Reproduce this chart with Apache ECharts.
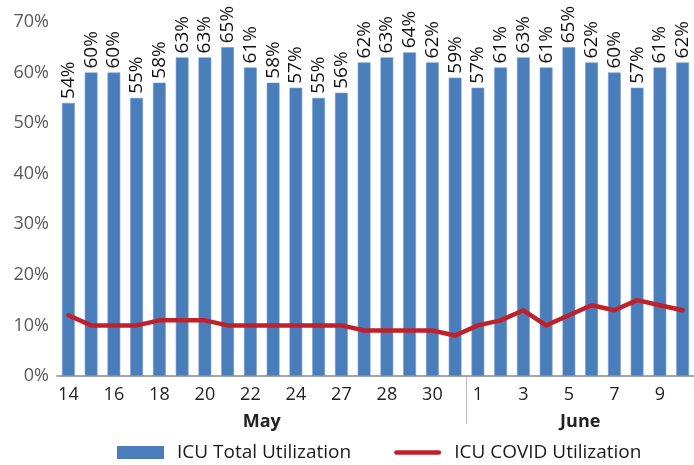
<!DOCTYPE html>
<html>
<head>
<meta charset="utf-8">
<script src="https://cdn.jsdelivr.net/npm/echarts@6/dist/echarts.min.js"></script>
<style>
  html, body { margin: 0; padding: 0; background: #fff; }
  #chart { width: 694px; height: 465px; }
</style>
</head>
<body>
<div id="chart"></div>
<script>
// one bar per reported day, May 14 - June 10
const tickLabels = ['14','','16','','18','','20','','22','','24','','27','','28','','30','','1','','3','','5','','7','','9','']
const categories = tickLabels.map((t, i) => 'd' + i)
const totalUtil = [54,60,60,55,58,63,63,65,61,58,57,55,56,62,63,64,62,59,57,61,63,61,65,62,60,57,61,62]
const covidUtil = [12,10,10,10,11,11,11,10,10,10,10,10,10,9,9,9,9,8,10,11,13,10,12,14,13,15,14,13]
const months = [{name:'May', from:0, to:17}, {name:'June', from:18, to:27}]

const font = 'Open Sans'
const chart = echarts.init(document.getElementById('chart'))

const options = {
  animation:false,
  textStyle:{fontFamily:font},
  grid:{left:57, right:-4, top:22, bottom:89},
  legend:{
    bottom:-2,
    left:112,
    itemGap:43,
    itemWidth:47,
    itemHeight:13,
    textStyle:{fontSize:19, color:'#1a1a1a', fontFamily:font, padding:[0,0,0,8]},
    data:[
      {name:'ICU Total Utilization', icon:'rect', itemStyle:{borderWidth:0}},
      {name:'ICU COVID Utilization', icon:'path://M2,0 H48 A2.5,2.5 0 0 1 48,5 H2 A2.5,2.5 0 0 1 2,0 Z'}
    ]
  },
  xAxis:[{
    type:'category',
    data:categories,
    axisLine:{lineStyle:{color:'#a6a6a6', width:2}},
    axisTick:{show:false},
    axisLabel:{
      interval:0,
      margin:10,
      fontSize:18,
      color:'#222',
      formatter:(v, i) => tickLabels[i]
    }
  }],
  yAxis:[{
    type:'value',
    min:0,
    max:70,
    interval:10,
    axisLine:{show:false},
    axisTick:{show:false},
    splitLine:{show:false},
    axisLabel:{fontSize:18, color:'#595959', margin:8, formatter:'{value}%'}
  }],
  series:[
    {
      name:'ICU Total Utilization',
      type:'bar',
      data:totalUtil,
      barCategoryGap:'44%',
      itemStyle:{color:'#4a7ebb', borderColor:'#6f9bd1', borderWidth:0.6},
      label:{
        show:true,
        position:'top',
        rotate:90,
        align:'left',
        verticalAlign:'middle',
        distance:4,
        fontSize:19,
        color:'#111',
        formatter:'{c}%'
      }
    },
    {
      name:'ICU COVID Utilization',
      type:'line',
      data:covidUtil,
      symbol:'none',
      lineStyle:{color:'#c0202a', width:4.5, cap:'round', join:'round'},
      itemStyle:{color:'#c0202a'}
    }
  ]
}

chart.setOption(options)

// month labels and the separator under the axis
function drawMonths(){
  const step = chart.convertToPixel({xAxisIndex:0}, categories[1]) - chart.convertToPixel({xAxisIndex:0}, categories[0])
  const y0 = chart.convertToPixel({yAxisIndex:0}, 0)
  const els = []
  months.forEach((m, k) => {
    const x1 = chart.convertToPixel({xAxisIndex:0}, categories[m.from]) - step / 2
    const x2 = chart.convertToPixel({xAxisIndex:0}, categories[m.to]) + step / 2
    els.push({
      type:'text',
      x:(x1 + Math.min(x2, 694)) / 2,
      y:y0 + 37,
      style:{text:m.name, fontSize:18, fontWeight:'bold', fontFamily:font, fill:'#222', align:'center', verticalAlign:'top'}
    })
    if (k > 0) {
      els.push({
        type:'line',
        shape:{x1:x1, y1:y0, x2:x1, y2:y0 + 48},
        style:{stroke:'#bfbfbf', lineWidth:1}
      })
    }
  })
  chart.setOption({graphic:els})
}
drawMonths()
</script>
</body>
</html>
